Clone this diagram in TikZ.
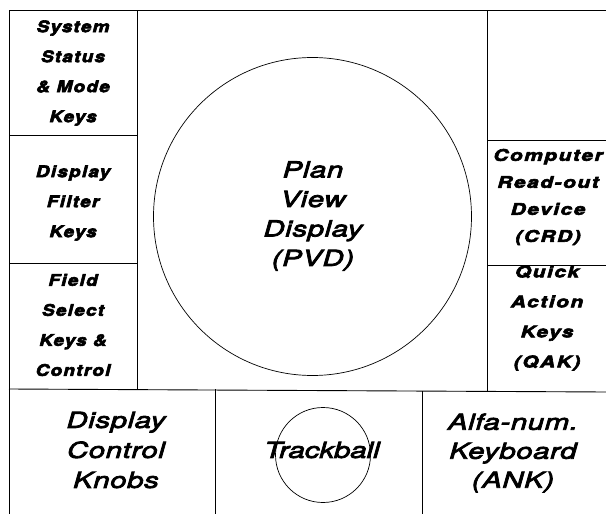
\documentclass[tikz,border=0pt]{standalone}
\usepackage{fontspec}
\newfontfamily\keyfont[FakeStretch=1.18, LetterSpace=8]{TeX Gyre Heros}
\newfontfamily\keyfontwide[FakeStretch=1.3, LetterSpace=10]{TeX Gyre Heros}
\newfontfamily\bigfont[FakeStretch=1.33, LetterSpace=3]{TeX Gyre Heros}
\newfontfamily\ballfont[FakeStretch=1.33, LetterSpace=0]{TeX Gyre Heros}
% glyphs filled and outlined, for the heavy printed lettering
\newcommand\inked[2]{\special{pdf:literal direct #1 w 2 Tr}#2\special{pdf:literal direct 0 Tr}}
\tikzset{
  frame/.style={line width=0.9pt, black},
  ring/.style={line width=0.7pt, black},
  keylabel/.style={align=center, inner sep=0pt,
    font=\keyfont\bfseries\itshape\fontsize{16}{30}\selectfont},
  keylabelwide/.style={align=center, inner sep=0pt,
    font=\keyfontwide\bfseries\itshape\fontsize{16}{30}\selectfont},
  biglabel/.style={align=center, inner sep=0pt,
    font=\bigfont\itshape\fontsize{22}{30}\selectfont},
}
\begin{document}
\begin{tikzpicture}[x=1pt, y=-1pt]
  \useasboundingbox (0,0) rectangle (606,514);

  % console outline and panel dividers
  \draw[frame] (9,10) -- (606,10);
  \draw[frame] (9,10) -- (9,514);
  \draw[frame] (137,10) -- (137,389);
  \draw[frame] (487,10) -- (487,391);
  \draw[frame] (9,135) -- (137,135);
  \draw[frame] (9,263) -- (137,263);
  \draw[frame] (487,140) -- (606,140);
  \draw[frame] (487,265) -- (606,265);
  \draw[frame] (9,389) -- (606,392);
  \draw[frame] (215,389) -- (215,514);
  \draw[frame] (422,391) -- (422,514);

  % left key panels
  \node[keylabel] (ssm) at (73,73) {\inked{0.6}{System\\Status\\\& Mode\\Keys}};
  \node[keylabel] (dfk) at (73,203) {\inked{0.6}{Display\\Filter\\Keys}};
  \node[keylabel] (fsk) at (73,325) {\inked{0.6}{Field\\Select\\Keys \&\\Control}};

  % right key panels
  \node[keylabelwide, font=\keyfontwide\bfseries\itshape\fontsize{16}{27}\selectfont]
    (crd) at (548,197) {\inked{0.6}{Computer\\Read-out\\Device\\(CRD)}};
  \node[keylabelwide] (qak) at (547,318) {\inked{0.6}{Quick\\Action\\Keys\\(QAK)}};

  % plan view display
  \node[ring, draw, circle, minimum size=318pt] (pvdring) at (312.5,216.5) {};
  \node[biglabel, font=\bigfont\itshape\fontsize{22}{29.5}\selectfont]
    (pvd) at (313,216) {\inked{0.8}{Plan\\View\\Display\\(PVD)}};

  % lower controls
  \node[biglabel] (dck) at (116,450) {\inked{0.8}{Display\\Control\\Knobs}};
  \node[ring, draw, circle, minimum size=95pt] (ballring) at (323,455) {};
  \node[biglabel, font=\ballfont\itshape\fontsize{22}{30}\selectfont]
    (ball) at (322,450) {\inked{0.8}{Trackball}};
  \node[biglabel, font=\bigfont\itshape\fontsize{22}{29}\selectfont]
    (ank) at (513,453) {\inked{0.8}{Alfa-num.\\Keyboard\\(ANK)}};
\end{tikzpicture}
\end{document}
